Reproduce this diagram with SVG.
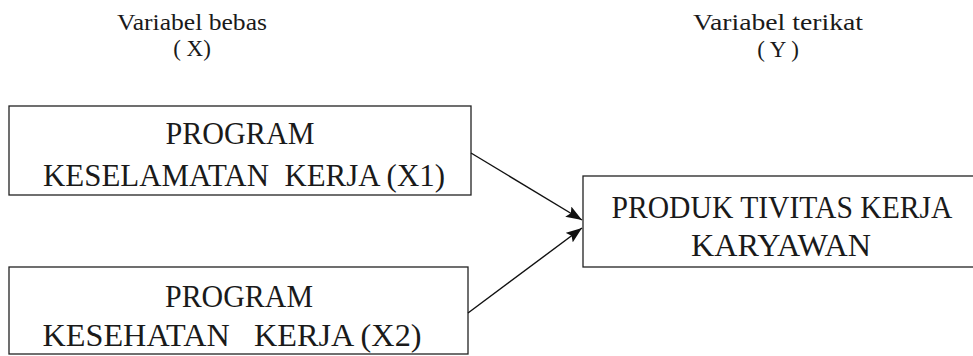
<svg xmlns="http://www.w3.org/2000/svg" width="973" height="356" viewBox="0 0 973 356">
<defs>
<marker id="ah" viewBox="0 0 16 12" refX="16" refY="6" markerWidth="16" markerHeight="12" markerUnits="userSpaceOnUse" orient="auto">
<path d="M0,0 L16,6 L0,12 L3,6 Z" fill="#111"/>
</marker>
</defs>
<style>
text{font-family:"Liberation Serif","Times New Roman",serif;fill:#1a1a1a;text-anchor:middle;white-space:pre}
.h{font-size:23px}
.b{font-size:31px}
rect{fill:#fff;stroke:#222;stroke-width:1.3}
.c{stroke:#111;stroke-width:1.4;fill:none}
</style>
<rect x="0" y="0" width="973" height="356" style="fill:#fff;stroke:none"/>
<g id="label-x">
<text class="h" x="192" y="30" textLength="150" lengthAdjust="spacingAndGlyphs">Variabel bebas</text>
<text class="h" x="192" y="56" xml:space="preserve">( X)</text>
</g>
<g id="label-y">
<text class="h" x="778" y="30" textLength="170" lengthAdjust="spacingAndGlyphs">Variabel terikat</text>
<text class="h" x="778" y="57" xml:space="preserve">( Y )</text>
</g>
<g id="x1">
<rect x="9" y="106" width="462" height="89"/>
<text class="b" x="240" y="144" textLength="149" lengthAdjust="spacingAndGlyphs">PROGRAM</text>
<text class="b" x="244" y="186" textLength="402" lengthAdjust="spacingAndGlyphs" xml:space="preserve">KESELAMATAN  KERJA (X1)</text>
</g>
<g id="x2">
<rect x="9" y="267" width="459" height="87"/>
<text class="b" x="239" y="307" textLength="148" lengthAdjust="spacingAndGlyphs">PROGRAM</text>
<text class="b" x="232" y="346" textLength="379" lengthAdjust="spacingAndGlyphs" xml:space="preserve">KESEHATAN   KERJA (X2)</text>
</g>
<g id="y">
<rect x="583" y="176" width="400" height="91"/>
<text class="b" x="782" y="218" textLength="341" lengthAdjust="spacingAndGlyphs">PRODUK TIVITAS KERJA</text>
<text class="b" x="781" y="256" textLength="180" lengthAdjust="spacingAndGlyphs">KARYAWAN</text>
</g>
<g id="connectors">
<line class="c" x1="471" y1="153" x2="582" y2="220" marker-end="url(#ah)"/>
<line class="c" x1="468" y1="313" x2="582" y2="228" marker-end="url(#ah)"/>
</g>
</svg>
